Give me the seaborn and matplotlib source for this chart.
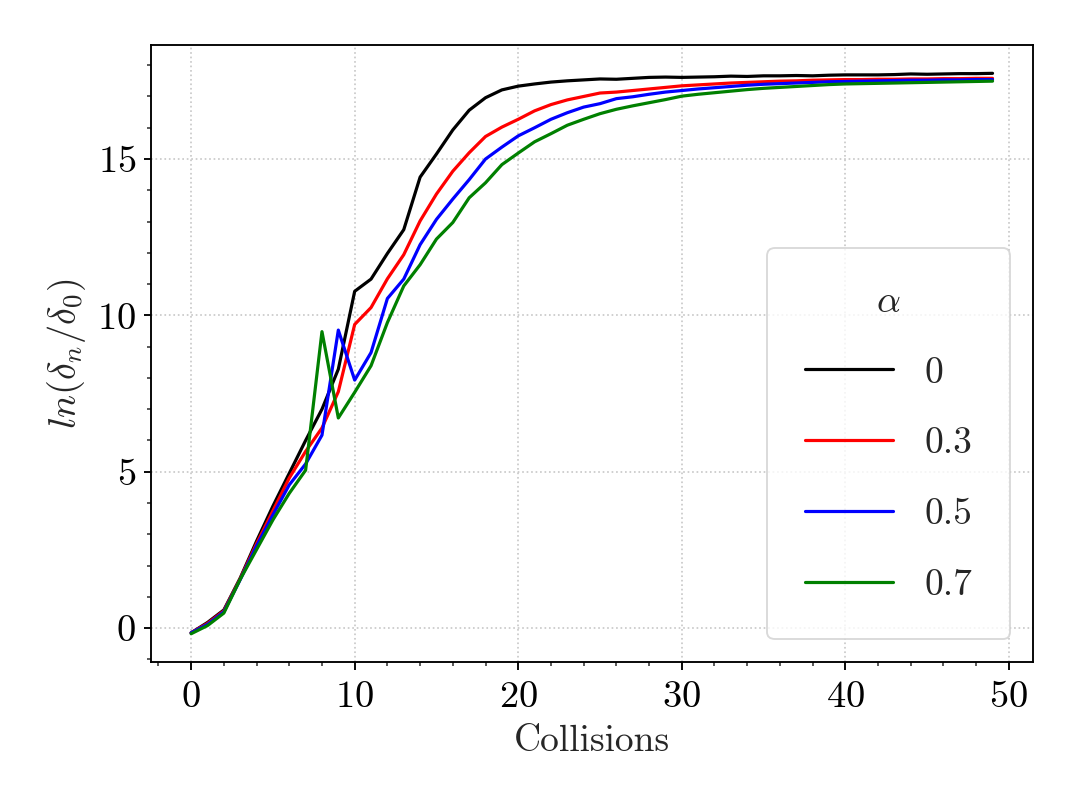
import numpy as np
import pandas as pd
import matplotlib
matplotlib.use("Agg")
import matplotlib.pyplot as plt
import seaborn as sns
from matplotlib.ticker import MultipleLocator

collisions = list(range(50))
alpha_labels = ["0", "0.3", "0.5", "0.7"]
line_colors = ["black", "red", "blue", "green"]

y_alpha_0 = [-0.15, 0.18, 0.58, 1.60, 2.78, 3.90, 4.95, 6.00, 7.00, 8.28,
             10.77, 11.16, 11.98, 12.74, 14.42, 15.16, 15.93, 16.56, 16.96, 17.21,
             17.33, 17.40, 17.46, 17.50, 17.53, 17.56, 17.55, 17.58, 17.61, 17.62,
             17.61, 17.62, 17.63, 17.65, 17.64, 17.66, 17.66, 17.67, 17.66, 17.68,
             17.69, 17.69, 17.69, 17.70, 17.72, 17.71, 17.72, 17.73, 17.73, 17.74]
y_alpha_03 = [-0.15, 0.15, 0.55, 1.58, 2.70, 3.75, 4.80, 5.65, 6.40, 7.56,
              9.71, 10.25, 11.17, 11.94, 13.02, 13.88, 14.61, 15.20, 15.72, 16.02,
              16.27, 16.54, 16.74, 16.89, 17.00, 17.11, 17.14, 17.19, 17.24, 17.29,
              17.34, 17.37, 17.40, 17.43, 17.45, 17.47, 17.49, 17.50, 17.52, 17.53,
              17.54, 17.54, 17.55, 17.55, 17.56, 17.56, 17.57, 17.57, 17.58, 17.58]
y_alpha_05 = [-0.15, 0.12, 0.52, 1.55, 2.63, 3.62, 4.58, 5.25, 6.17, 9.53,
              7.93, 8.81, 10.54, 11.16, 12.26, 13.07, 13.72, 14.34, 15.00, 15.38,
              15.74, 16.00, 16.27, 16.48, 16.66, 16.77, 16.93, 16.99, 17.07, 17.14,
              17.19, 17.24, 17.28, 17.32, 17.36, 17.39, 17.41, 17.43, 17.45, 17.47,
              17.48, 17.49, 17.50, 17.51, 17.52, 17.52, 17.53, 17.53, 17.54, 17.54]
y_alpha_07 = [-0.18, 0.08, 0.48, 1.56, 2.51, 3.46, 4.31, 5.05, 9.48, 6.72,
              7.54, 8.39, 9.77, 10.94, 11.62, 12.44, 12.97, 13.76, 14.24, 14.82,
              15.19, 15.55, 15.81, 16.08, 16.27, 16.45, 16.59, 16.70, 16.80, 16.90,
              17.01, 17.07, 17.12, 17.17, 17.22, 17.26, 17.29, 17.32, 17.35, 17.38,
              17.40, 17.41, 17.42, 17.43, 17.44, 17.45, 17.46, 17.47, 17.48, 17.49]

series = [y_alpha_0, y_alpha_03, y_alpha_05, y_alpha_07]
df = pd.concat(
    [pd.DataFrame({"Collisions": collisions, "value": s, "alpha": lab})
     for s, lab in zip(series, alpha_labels)],
    ignore_index=True,
)

sns.set_style("white")
plt.rcParams["font.family"] = "serif"
plt.rcParams["font.serif"] = ["cmr10", "DejaVu Serif"]
plt.rcParams["mathtext.fontset"] = "cm"
plt.rcParams["axes.formatter.use_mathtext"] = True
plt.rcParams["axes.unicode_minus"] = False

FS = 20.5

fig, ax = plt.subplots(figsize=(1079 / 135, 809 / 135), dpi=135)
fig.subplots_adjust(left=0.14, right=0.957, top=0.944, bottom=0.182)

sns.lineplot(data=df, x="Collisions", y="value", hue="alpha",
             hue_order=alpha_labels,
             palette=dict(zip(alpha_labels, line_colors)),
             linewidth=1.7, ax=ax)

ax.set_xlabel("Collisions", fontsize=20, labelpad=6)
ax.set_ylabel(r"$ln(\delta_n/\delta_0)$", fontsize=20.5, labelpad=5)
ax.xaxis.set_major_locator(MultipleLocator(10))
ax.xaxis.set_minor_locator(MultipleLocator(2))
ax.yaxis.set_major_locator(MultipleLocator(5))
ax.yaxis.set_minor_locator(MultipleLocator(1))
ax.tick_params(axis="both", which="major", labelsize=FS, direction="out",
               length=4, width=1, left=True, bottom=True, colors="black")
ax.tick_params(axis="x", which="major", pad=6)
ax.tick_params(axis="y", which="major", pad=4)
ax.tick_params(axis="both", which="minor", direction="out", length=2.2,
               width=0.8, left=True, bottom=True)
for sp in ax.spines.values():
    sp.set_color("black")
    sp.set_linewidth(1.0)
ax.grid(True, which="major", linestyle=":", color="#c8c8c8", linewidth=0.9)

leg = ax.legend(title=r"$\alpha$", loc="lower right", fontsize=20,
                title_fontsize=20, labelspacing=1.0, handlelength=2.35,
                handletextpad=0.85, borderpad=1.0, frameon=True, fancybox=True,
                borderaxespad=0.6)
leg.get_frame().set_edgecolor("#d0d0d0")

fig.savefig("out.png", dpi=135)
